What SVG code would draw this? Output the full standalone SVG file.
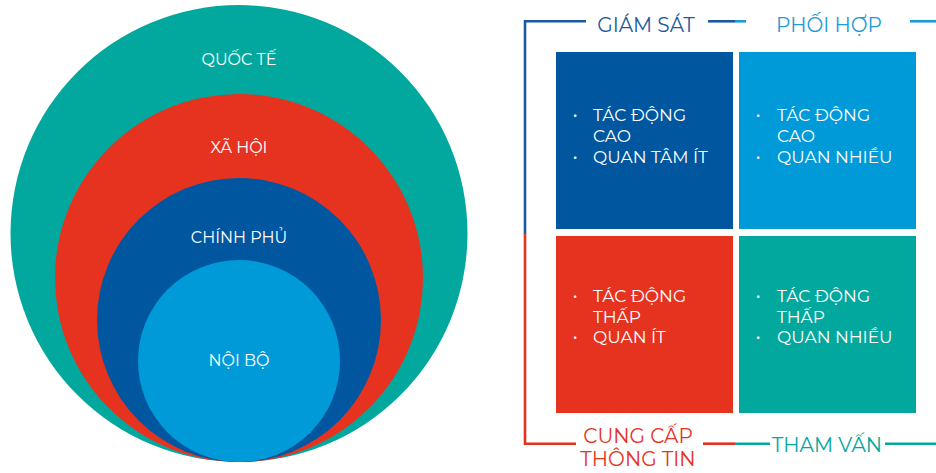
<svg xmlns="http://www.w3.org/2000/svg" width="936" height="473" viewBox="0 0 936 473">
<style>
text{font-family:"Montserrat","Open Sans","Liberation Sans",sans-serif;}
.lbl{fill:#ffffff;font-size:16px;text-anchor:middle;}
.bx{fill:#ffffff;font-size:17px;}
.bul{fill:#ffffff;font-size:16px;text-anchor:middle;}
.hd{font-size:20px;text-anchor:middle;}
.ln{fill:none;stroke-width:2.6;}
</style>
<rect width="936" height="473" fill="#ffffff"/>
<g id="quoc-te">
<circle cx="239" cy="233.5" r="228.5" fill="#02A89E"/>
<text class="lbl" x="239" y="65">QUỐC TẾ</text>
</g>
<g id="xa-hoi">
<circle cx="239" cy="278" r="184" fill="#E5331F"/>
<text class="lbl" x="239" y="153">XÃ HỘI</text>
</g>
<g id="chinh-phu">
<circle cx="239" cy="320" r="142" fill="#00579F"/>
<text class="lbl" x="239" y="243">CHÍNH PHỦ</text>
</g>
<g id="noi-bo">
<circle cx="239" cy="361" r="101" fill="#009AD9"/>
<text class="lbl" x="239" y="366">NỘI BỘ</text>
</g>

<g id="connectors">
<path class="ln" stroke="#1B5AA0" d="M525,234 V21.3 H586"/>
<path class="ln" stroke="#1B5AA0" d="M708,21.3 H735"/>
<path class="ln" stroke="#1E9BD7" d="M735,21.3 H746"/>
<path class="ln" stroke="#1E9BD7" d="M910,21.3 H936"/>
<path class="ln" stroke="#E5331F" d="M525,233 V443.7 H576"/>
<path class="ln" stroke="#E5331F" d="M703,443.7 H735"/>
<path class="ln" stroke="#02A89E" d="M735,443.7 H770"/>
<path class="ln" stroke="#02A89E" d="M885,443.7 H936"/>
</g>

<g id="giam-sat-label">
<text class="hd" x="646" y="32" fill="#1B5AA0">GIÁM SÁT</text>
</g>
<g id="phoi-hop-label">
<text class="hd" x="829" y="32" fill="#1E9BD7">PHỐI HỢP</text>
</g>
<g id="cung-cap-label">
<text class="hd" x="638" y="443" fill="#E5331F">CUNG CẤP</text>
<text class="hd" x="638" y="466" fill="#E5331F">THÔNG TIN</text>
</g>
<g id="tham-van-label">
<text class="hd" x="827" y="452" fill="#02A89E">THAM VẤN</text>
</g>

<g id="giam-sat">
<rect x="556" y="52" width="177" height="177" fill="#00579F"/>
<text class="bul" x="575" y="120">•</text>
<text class="bx" x="593" y="121">TÁC ĐỘNG</text>
<text class="bx" x="593" y="142">CAO</text>
<text class="bul" x="575" y="162">•</text>
<text class="bx" x="593" y="163">QUAN TÂM ÍT</text>
</g>
<g id="phoi-hop">
<rect x="739" y="52" width="177" height="177" fill="#009AD9"/>
<text class="bul" x="758" y="120">•</text>
<text class="bx" x="777" y="121">TÁC ĐỘNG</text>
<text class="bx" x="777" y="142">CAO</text>
<text class="bul" x="758" y="162">•</text>
<text class="bx" x="777" y="163">QUAN NHIỀU</text>
</g>
<g id="cung-cap">
<rect x="556" y="236" width="177" height="177" fill="#E5331F"/>
<text class="bul" x="575" y="301">•</text>
<text class="bx" x="593" y="302">TÁC ĐỘNG</text>
<text class="bx" x="593" y="323">THẤP</text>
<text class="bul" x="575" y="342">•</text>
<text class="bx" x="593" y="343">QUAN ÍT</text>
</g>
<g id="tham-van">
<rect x="739" y="236" width="177" height="177" fill="#02A89E"/>
<text class="bul" x="758" y="301">•</text>
<text class="bx" x="777" y="302">TÁC ĐỘNG</text>
<text class="bx" x="777" y="323">THẤP</text>
<text class="bul" x="758" y="342">•</text>
<text class="bx" x="777" y="343">QUAN NHIỀU</text>
</g>
</svg>
